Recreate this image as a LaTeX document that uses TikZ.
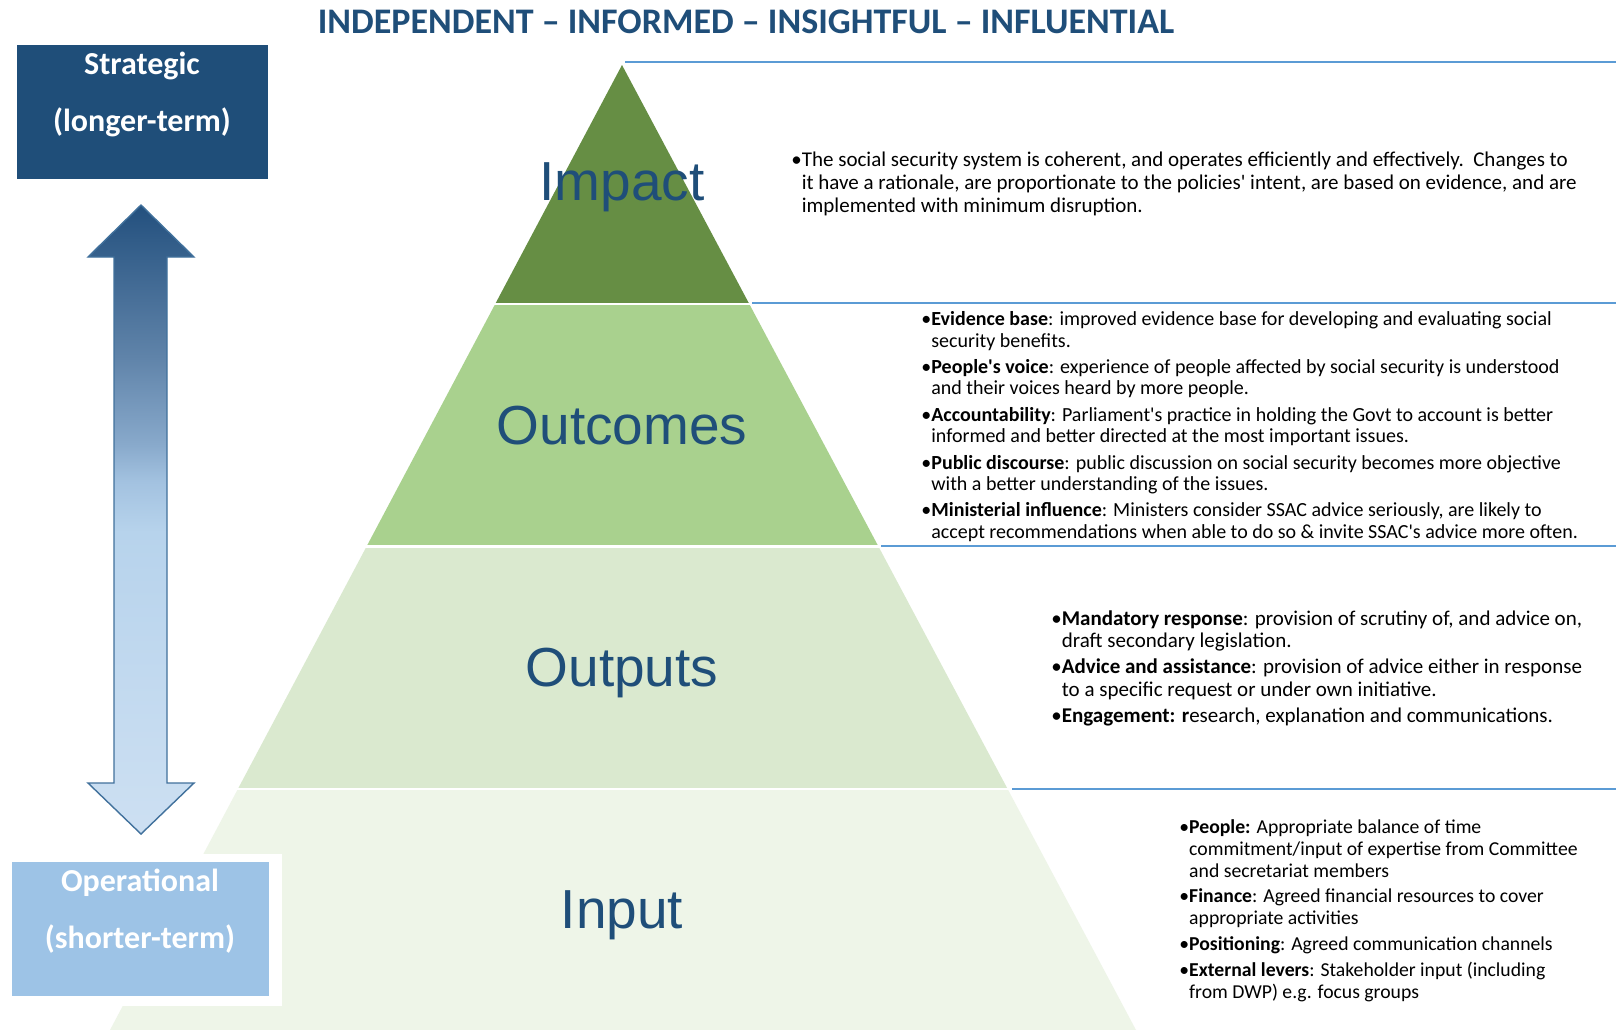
\documentclass[tikz,border=0pt]{standalone}
\usepackage{fontspec}
\setmainfont{Carlito}
\newfontfamily\labelfont{Liberation Sans}
\newcommand{\ap}{\textquotesingle}

\definecolor{navy}{HTML}{1F4E79}
\definecolor{opblue}{HTML}{9DC3E6}
\definecolor{impactgreen}{HTML}{668E44}
\definecolor{outcomegreen}{HTML}{A9D18E}
\definecolor{outputgreen}{HTML}{DAE9CF}
\definecolor{inputgreen}{HTML}{EEF5E8}
\definecolor{ruleblue}{HTML}{5B9BD5}
\definecolor{arrowedge}{HTML}{41719C}
\definecolor{arrA}{HTML}{23507E}
\definecolor{arrB}{HTML}{5F83A9}
\definecolor{arrC}{HTML}{88A9CB}
\definecolor{arrD}{HTML}{A3C2E0}
\definecolor{arrE}{HTML}{B7D3EC}
\definecolor{arrF}{HTML}{CCDFF2}

% dark at the top, light from the middle down
\pgfdeclareverticalshading{arrowfade}{100bp}{color(0bp)=(arrF); color(26bp)=(arrF);
  color(49bp)=(arrE); color(53bp)=(arrD); color(56bp)=(arrC); color(63bp)=(arrB);
  color(75bp)=(arrA); color(100bp)=(arrA)}

\begin{document}
\begin{tikzpicture}[x=0.5pt,y=-0.5pt,
    bodytext/.style={anchor=base west, inner sep=0pt},
    layerlabel/.style={anchor=base, inner sep=0pt, text=navy,
      font=\labelfont\fontsize{27.5}{30}\selectfont},
    boxlabel/.style={anchor=base, inner sep=0pt, text=white,
      font=\bfseries\fontsize{16}{28.5}\selectfont},
    sepline/.style={ruleblue, line width=1pt}]
  \useasboundingbox (0,0) rectangle (1616,1030);
  \fill[white] (0,0) rectangle (1616,1030);

  % pyramid cut into four bands
  \coordinate (apex) at (622,65);
  \coordinate (left) at (110,1030);
  \coordinate (right) at (1136,1030);
  \begin{scope}
    \clip (apex) -- (left) -- (right) -- cycle;
    \foreach \ytop/\ybot/\col in {60/303/impactgreen,305/545/outcomegreen,548/788/outputgreen,790/1030/inputgreen}
      \fill[\col] (0,\ytop) rectangle (1616,\ybot);
  \end{scope}

  \foreach \xs/\yl in {625/62,752/303,881/546,1012/789}
    \draw[sepline] (\xs,\yl) -- (1616,\yl);

  \node[anchor=base, inner sep=0pt, text=navy, font=\bfseries\fontsize{18}{20}\selectfont] (title) at (746,33)
    {INDEPENDENT \textendash{} INFORMED \textendash{} INSIGHTFUL \textendash{} INFLUENTIAL};

  % time scale on the left
  \node[fill=navy, minimum width=125.75pt, minimum height=67pt, inner sep=0pt] (strategic) at (142.25,112) {};
  \node[boxlabel] (strategictxt) at (142,74) {\begin{tabular}[t]{@{}c@{}}Strategic\\(longer-term)\end{tabular}};

  \fill[white] (0,854) rectangle (282,1006);
  \node[fill=opblue, minimum width=128.5pt, minimum height=67pt, inner sep=0pt] (operational) at (140.5,929) {};
  \node[boxlabel] (operationaltxt) at (140,891.7) {\begin{tabular}[t]{@{}c@{}}Operational\\(shorter-term)\end{tabular}};

  \draw[arrowedge, line width=0.7pt, shading=arrowfade]
    (141,205) -- (194,257) -- (167,257) -- (167,783) -- (194,783) -- (141,834)
    -- (88,783) -- (114,783) -- (114,257) -- (88,257) -- cycle;

  \node[layerlabel] (impact) at (622,200) {Impact};
  \node[layerlabel] (outcomes) at (622,444) {Outcomes};
  \node[layerlabel] (outputs) at (622,686) {Outputs};
  \node[layerlabel] (input) at (622,928) {Input};

  \node[bodytext, font=\fontsize{10.5}{11.5}\selectfont] (impacttxt) at (791,166) {%
    \begin{tabular}[t]{@{}l@{}l@{}}
      \textbullet & The social security system is coherent, and operates efficiently and effectively.\ \ Changes to\\
      & it have a rationale, are proportionate to the policies\ap{} intent, are based on evidence, and are\\
      & implemented with minimum disruption.
    \end{tabular}};

  \node[bodytext, font=\fontsize{10}{10.65}\selectfont] (outcomestxt) at (921,325.7) {%
    \begin{tabular}[t]{@{}l@{}l@{}}
      \textbullet & \textbf{Evidence base}: improved evidence base for developing and evaluating social\\
      & security benefits.\\[2.6pt]
      \textbullet & \textbf{People\ap{}s voice}: experience of people affected by social security is understood\\
      & and their voices heard by more people.\\[2.6pt]
      \textbullet & \textbf{Accountability}: Parliament\ap{}s practice in holding the Govt to account is better\\
      & informed and better directed at the most important issues.\\[2.6pt]
      \textbullet & \textbf{Public discourse}: public discussion on social security becomes more objective\\
      & with a better understanding of the issues.\\[2.6pt]
      \textbullet & \textbf{Ministerial influence}: Ministers consider SSAC advice seriously, are likely to\\
      & accept recommendations when able to do so \& invite SSAC\ap{}s advice more often.
    \end{tabular}};

  \node[bodytext, font=\fontsize{10.5}{11.1}\selectfont] (outputstxt) at (1051,625) {%
    \begin{tabular}[t]{@{}l@{}l@{}}
      \textbullet & \textbf{Mandatory response}: provision of scrutiny of, and advice on,\\
      & draft secondary legislation.\\[2.2pt]
      \textbullet & \textbf{Advice and assistance}: provision of advice either in response\\
      & to a specific request or under own initiative.\\[2.2pt]
      \textbullet & \textbf{Engagement: r}esearch, explanation and communications.
    \end{tabular}};

  \node[bodytext, font=\fontsize{9.85}{11}\selectfont] (inputtxt) at (1179,833.3) {%
    \begin{tabular}[t]{@{}l@{}l@{}}
      \textbullet & \textbf{People:} Appropriate balance of time\\
      & commitment/input of expertise from Committee\\
      & and secretariat members\\[1.8pt]
      \textbullet & \textbf{Finance}: Agreed financial resources to cover\\
      & appropriate activities\\[1.8pt]
      \textbullet & \textbf{Positioning}: Agreed communication channels\\[1.8pt]
      \textbullet & \textbf{External levers}: Stakeholder input (including\\
      & from DWP) e.g. focus groups
    \end{tabular}};
\end{tikzpicture}
\end{document}
